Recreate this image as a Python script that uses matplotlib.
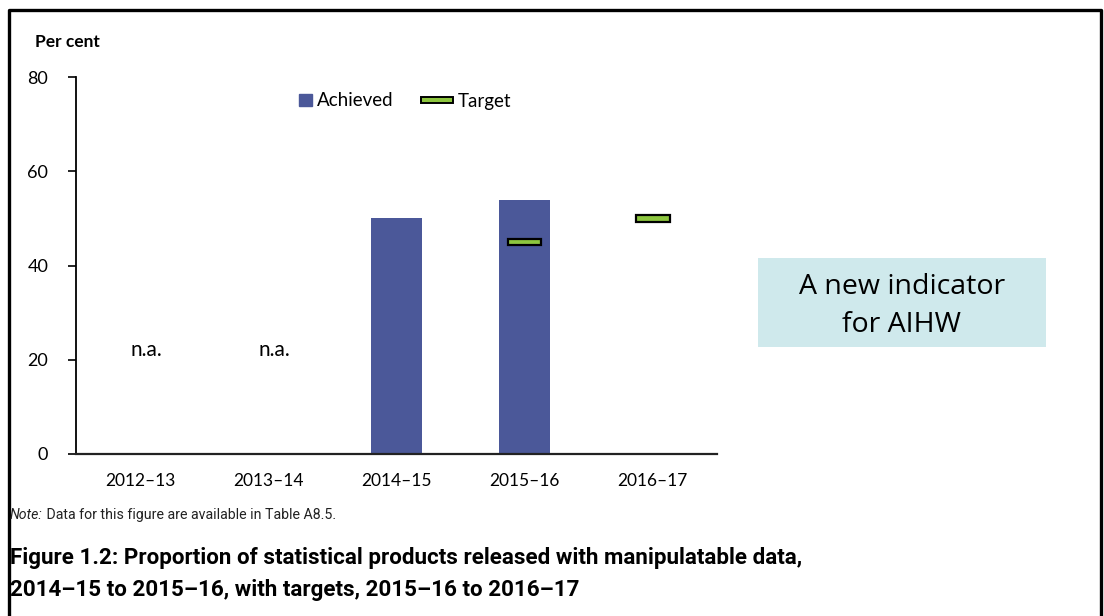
import numpy as np
import matplotlib.pyplot as plt
from matplotlib.patches import Rectangle
from matplotlib.lines import Line2D
from matplotlib.legend_handler import HandlerPatch

# data
years = ['2012–13', '2013–14', '2014–15', '2015–16', '2016–17']
achieved = [np.nan, np.nan, 50, 54, np.nan]
target = [np.nan, np.nan, np.nan, 45, 50]
na_years = ['2012–13', '2013–14']
na_level = 22

bar_color = '#4b5899'
target_color = '#8dc63f'
axis_font = 'Lato'
doc_font = 'Roboto'


def square_patch(legend, orig_handle, xdescent, ydescent, width, height, fontsize):
    # small square sitting at the right end of the handle box
    s = height * 0.95
    return Rectangle((width - s - xdescent, -ydescent + (height - s) / 2), s, s)


def flat_bar_patch(legend, orig_handle, xdescent, ydescent, width, height, fontsize):
    h = height * 0.42
    return Rectangle((-xdescent, -ydescent + (height - h) / 2), width, h)


fig = plt.figure(figsize=(11.04, 6.16), dpi=100)
ax = fig.add_axes([76 / 1104, 1 - 454 / 616, 641 / 1104, (454 - 77) / 616])

x = np.arange(len(years))
ach = np.array(achieved, dtype=float)
tgt = np.array(target, dtype=float)

ax.bar(x, ach, width=0.4, color=bar_color, zorder=2)
# target drawn as a small outlined bar
ax.bar(x, np.where(np.isnan(tgt), np.nan, 1.4), bottom=tgt - 0.7, width=0.26,
       color=target_color, edgecolor='black', linewidth=1.6, zorder=3)

for yr in na_years:
    ax.text(years.index(yr) + 0.05, na_level, 'n.a.', ha='center', va='center',
            fontsize=15, family=axis_font)

ax.set_xlim(-0.5, len(years) - 0.5)
ax.set_ylim(0, 80)
ax.set_yticks([0, 20, 40, 60, 80])
ax.set_xticks(x)
ax.set_xticklabels(years)
for s in ['top', 'right']:
    ax.spines[s].set_visible(False)
ax.spines['left'].set_linewidth(1.3)
ax.spines['bottom'].set_linewidth(1.6)
ax.spines['bottom'].set_color('#222222')
ax.tick_params(axis='y', length=6, width=1.2, pad=14, labelsize=13)
ax.tick_params(axis='x', length=0, pad=14, labelsize=12.5)
for lab in ax.get_xticklabels() + ax.get_yticklabels():
    lab.set_family(axis_font)

fig.text(35 / 1104, 1 - 42 / 616, 'Per cent', fontsize=12.5, fontweight='bold',
         family=axis_font, va='center')

h_ach = Rectangle((0, 0), 1, 1, color=bar_color)
h_target = Rectangle((0, 0), 1, 1, facecolor=target_color, edgecolor='black', linewidth=1.4)
leg = ax.legend([h_ach, h_target], ['Achieved', 'Target'], loc='center left',
                bbox_to_anchor=(280 / 1104, 1 - 101 / 616), bbox_transform=fig.transFigure,
                ncol=2, frameon=False, handlelength=1.7, handleheight=0.7,
                handletextpad=0.25, columnspacing=1.5, borderpad=0, borderaxespad=0,
                prop={'family': axis_font, 'size': 13.5},
                handler_map={h_ach: HandlerPatch(patch_func=square_patch),
                             h_target: HandlerPatch(patch_func=flat_bar_patch)})

# side note box
fig.patches.append(Rectangle((758 / 1104, 1 - 347 / 616), 288 / 1104, 89 / 616,
                             transform=fig.transFigure, facecolor='#cfe9ec',
                             edgecolor='none', zorder=0))
fig.text(902 / 1104, 1 - 306 / 616, 'A new indicator\nfor AIHW', ha='center', va='center',
         fontsize=20.5, family='Open Sans', linespacing=1.45)

# note and caption
note = fig.text(10 / 1104, 1 - 515 / 616, 'Note:', fontsize=10.2, style='italic',
                family=doc_font, va='center', color='#222222')
ax.annotate(' Data for this figure are available in Table A8.5.', xy=(1, 0.5),
            xycoords=note, va='center', ha='left', fontsize=10.2, family=doc_font,
            color='#222222', annotation_clip=False)

fig.text(10 / 1104, 1 - 574 / 616,
         'Figure 1.2: Proportion of statistical products released with manipulatable data,\n'
         '2014–15 to 2015–16, with targets, 2015–16 to 2016–17',
         fontsize=16.1, fontweight='bold', family=doc_font, va='center', linespacing=1.6)

# outer frame
fig.lines.append(Line2D([9 / 1104, 9 / 1104, 1101 / 1104, 1101 / 1104],
                        [0, 1 - 10 / 616, 1 - 10 / 616, 0], transform=fig.transFigure,
                        color='black', linewidth=2.4))

fig.savefig('out.png', dpi=100)
